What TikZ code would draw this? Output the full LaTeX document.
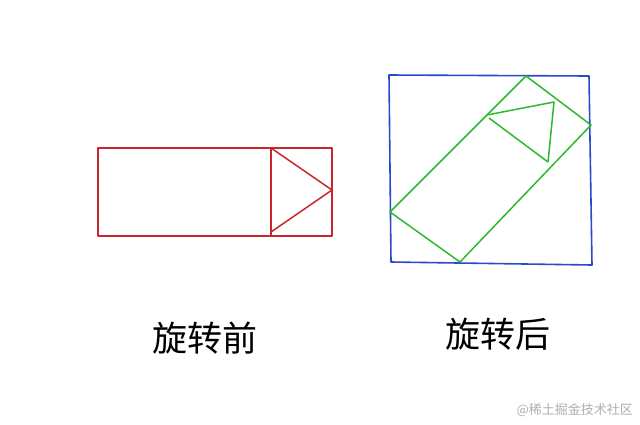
\documentclass[tikz,border=0pt]{standalone}
\usepackage{fontspec}
\newfontfamily\cjk{Noto Sans CJK SC}
\definecolor{rred}{RGB}{200,40,45}
\definecolor{bblue}{RGB}{40,75,200}
\definecolor{ggreen}{RGB}{45,185,45}
\definecolor{wmgray}{RGB}{175,175,175}
\begin{document}
\begin{tikzpicture}[x=1pt,y=-1pt,
  redline/.style={draw=rred,line width=1.5pt,line join=round},
  blueline/.style={draw=bblue,line width=1.6pt,line join=round},
  greenline/.style={draw=ggreen,line width=1.5pt,line join=round},
  caption/.style={font=\cjk\fontsize{35}{40}\selectfont,inner sep=0pt},
  wm/.style={font=\cjk\fontsize{13}{15}\selectfont,text=wmgray,inner sep=0pt}]
\useasboundingbox (0,0) rectangle (640,424);
\fill[white] (0,0) rectangle (640,424);
% before rotation
\coordinate (r1) at (98,148);
\coordinate (r2) at (332,148);
\coordinate (r3) at (332,236);
\coordinate (r4) at (98,236);
\coordinate (d1) at (271,148);
\coordinate (d2) at (271,236);
\coordinate (tp) at (332,190);
\coordinate (tb) at (271,232);
\draw[redline] (r1) -- (r2) -- (r3) -- (r4) -- cycle;
\draw[redline] (d1) -- (d2);
\draw[redline] (d1) -- (tp) -- (tb);
% after rotation
\coordinate (b1) at (389,75);
\coordinate (b2) at (589,76);
\coordinate (b3) at (592,265);
\coordinate (b4) at (391,262);
\draw[blueline] (b1) -- (b2) -- (b3) -- (b4) -- cycle;
\coordinate (g1) at (390,212);
\coordinate (g2) at (526,76);
\coordinate (g3) at (591,125);
\coordinate (g4) at (460,262);
\draw[greenline] (g1) -- (g2) -- (g3) -- (g4) -- cycle;
\coordinate (t1) at (487,115);
\coordinate (t2) at (554,102);
\coordinate (t3) at (548,162);
\coordinate (t4) at (489,118);
\draw[greenline] (t1) -- (t2) -- (t3);
\draw[greenline] (t4) -- (t3);
% captions
\node[caption] (c1) at (205,338) {旋转前};
\node[caption] (c2) at (498,334) {旋转后};
\node[wm,anchor=east] (w) at (633,410) {@稀土掘金技术社区};
\end{tikzpicture}
\end{document}
